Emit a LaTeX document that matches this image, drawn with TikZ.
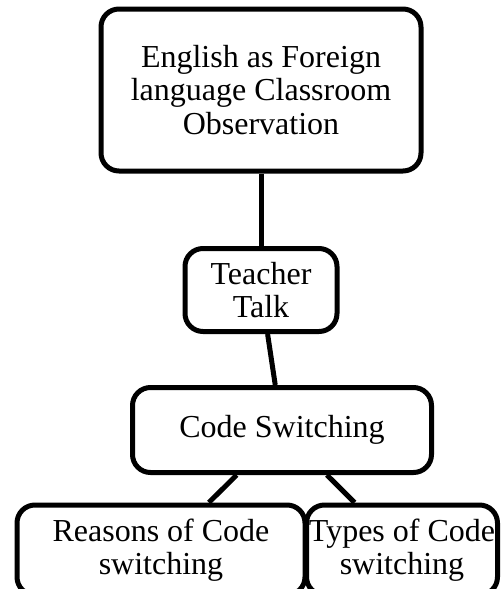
\documentclass[tikz,border=0pt]{standalone}
\usepackage{fontspec}
\setmainfont{Liberation Serif}
\usepackage{tikz}

\tikzset{box/.style={draw, line width=5pt, rounded corners=18pt, align=center,
    inner sep=0pt, font=\fontsize{32}{33.5}\selectfont},
  link/.style={line width=5pt}}

\begin{document}
\begin{tikzpicture}[x=1pt,y=-1pt]
\useasboundingbox (0,0) rectangle (502,589);
\clip (0,0) rectangle (502,589);

\node[box, minimum width=320pt, minimum height=162pt] (efl) at (261,90) {English as Foreign\\language Classroom\\Observation};
\node[box, minimum width=152pt, minimum height=83pt] (teacher) at (261,290) {Teacher\\Talk};
\node[box, minimum width=299pt, minimum height=85pt] (code) at (282,430) {Code Switching};
\node[box, minimum width=288pt, minimum height=90pt] (reasons) at (161,550) {Reasons of Code\\switching};
\node[box, minimum width=191pt, minimum height=90pt] (types) at (402,550) {Types of Code\\switching};

\draw[link] (efl) -- (teacher);
\draw[link] (teacher) -- (code);
\draw[link] (code) -- (reasons);
\draw[link] (code) -- (types);

\end{tikzpicture}
\end{document}
